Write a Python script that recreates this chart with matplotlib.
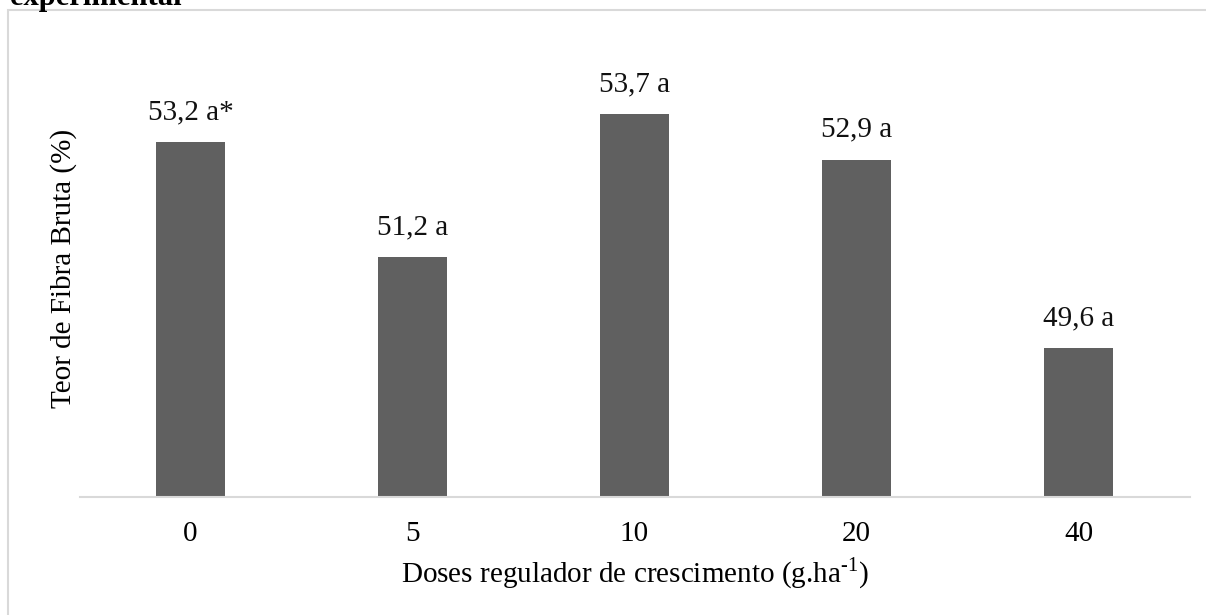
import matplotlib
matplotlib.use("Agg")
import matplotlib.pyplot as plt
from matplotlib.patches import Rectangle

# data
doses = ["0", "5", "10", "20", "40"]
fibra = [53.2, 51.2, 53.7, 52.9, 49.6]
rotulos = ["53,2 a*", "51,2 a", "53,7 a", "52,9 a", "49,6 a"]

plt.rcParams['font.family'] = ['Liberation Serif', 'DejaVu Serif']
plt.rcParams['mathtext.fontset'] = 'custom'
plt.rcParams['mathtext.rm'] = 'Liberation Serif'

W, H = 1206, 615
fig = plt.figure(figsize=(W / 100, H / 100), dpi=100)
ax = fig.add_axes([79.5 / W, 1 - 497 / H, 1110 / W, (497 - 39.4) / H])

x = range(len(doses))
bars = ax.bar(x, fibra, width=0.31, color='#606060', bottom=0, zorder=2)
ax.set_ylim(47, 55)
ax.set_xlim(-0.5, len(doses) - 0.5)

for b, txt in zip(bars, rotulos):
    ax.annotate(txt, (b.get_x() + b.get_width() / 2, b.get_height()),
                xytext=(0, 12), textcoords='offset points',
                ha='center', va='bottom', fontsize=21, color='#111111')

ax.set_xticks(list(x))
ax.set_xticklabels(doses, fontsize=21)
ax.tick_params(axis='x', length=0, pad=17)
ax.set_yticks([])
for s in ['top', 'right', 'left']:
    ax.spines[s].set_visible(False)
ax.spines['bottom'].set_color('#d9d9d9')
ax.spines['bottom'].set_linewidth(1.5)

ax.set_xlabel('Doses regulador de crescimento (g.ha$^{\u2010\\mathrm{1}}$)', fontsize=21, labelpad=6)
ax.set_ylabel('Teor de Fibra Bruta (%)', fontsize=21, labelpad=2)

# outer chart frame (cut by the picture edge on right and bottom)
frame = Rectangle((8 / W, -0.2), 1.2, 1 - 10 / H + 0.2, transform=fig.transFigure,
                  fill=False, edgecolor='#d9d9d9', linewidth=1.5)
fig.patches.append(frame)

# cropped caption line above the chart
fig.text(10 / W, 1 - 5 / H, 'experimental', fontsize=22, fontweight='bold',
         ha='left', va='baseline')

fig.savefig('out.png', dpi=100)
